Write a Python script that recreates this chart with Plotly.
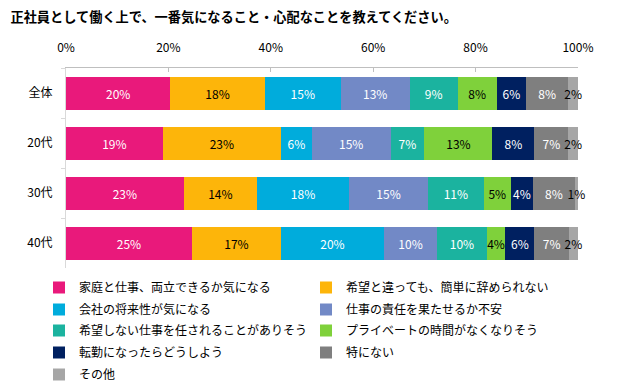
import plotly.graph_objects as go

title = "正社員として働く上で、一番気になること・心配なことを教えてください。"
categories = ["全体", "20代", "30代", "40代"]
series_names = [
    "家庭と仕事、両立できるか気になる",
    "希望と違っても、簡単に辞められない",
    "会社の将来性が気になる",
    "仕事の責任を果たせるか不安",
    "希望しない仕事を任されることがありそう",
    "プライベートの時間がなくなりそう",
    "転勤になったらどうしよう",
    "特にない",
    "その他",
]
# values per series, order: 全体, 20代, 30代, 40代 (percent)
s1 = [20.4, 18.9, 23.0, 24.6]
s2 = [18.4, 23.1, 14.3, 17.4]
s3 = [14.9, 6.0, 18.0, 20.1]
s4 = [13.4, 15.4, 15.4, 10.4]
s5 = [9.4, 6.6, 10.9, 9.7]
s6 = [7.6, 13.3, 5.3, 3.6]
s7 = [5.8, 8.2, 4.3, 5.7]
s8 = [8.2, 6.6, 8.2, 6.7]
s9 = [1.9, 1.9, 0.6, 1.8]
series_values = [s1, s2, s3, s4, s5, s6, s7, s8, s9]
colors = ["#E9197B", "#FDB50A", "#00ACDC", "#7289C6", "#1BB39F",
          "#7FD13B", "#002060", "#7F7F7F", "#A6A6A6"]
text_colors = ["white", "black", "white", "white", "white",
               "black", "white", "white", "black"]
tick_vals = [0, 20, 40, 60, 80, 100]
tick_text = ["0%", "20%", "40%", "60%", "80%", "100%"]

FONT = "Meiryo, 'Noto Sans CJK JP', sans-serif"

# legend rows: two entries per row
legend_ids = ["legend", "legend", "legend2", "legend2", "legend3",
              "legend3", "legend4", "legend4", "legend5"]
legend_rows_y = [-0.025, -0.135, -0.24, -0.35, -0.46]

fig = go.Figure()
for name, vals, col, tc, lg in zip(series_names, series_values, colors,
                                   text_colors, legend_ids):
    fig.add_trace(go.Bar(
        y=categories, x=vals, name=name, orientation="h",
        marker=dict(color=col, line=dict(width=0)),
        texttemplate="%{x:.0f}%", textposition="inside",
        insidetextanchor="middle", textangle=0,
        textfont=dict(color=tc, size=12, family=FONT),
        cliponaxis=False, hoverinfo="skip", legend=lg,
    ))

legend_common = dict(
    orientation="h", x=-0.0527, xanchor="left", yanchor="top",
    entrywidth=222, entrywidthmode="pixels", traceorder="normal",
    font=dict(size=12, family=FONT, color="black"),
    itemclick=False, itemdoubleclick=False, bgcolor="rgba(0,0,0,0)",
)

fig.update_layout(
    barmode="stack",
    bargap=0.34,
    width=620, height=389,
    margin=dict(l=58, r=50, t=60, b=129, pad=0, autoexpand=False),
    paper_bgcolor="white", plot_bgcolor="white",
    font=dict(family=FONT, size=12, color="#000000"),
    title=dict(text="<b>" + title + "</b>", x=0.004, xanchor="left",
               y=0.976, yanchor="middle",
               font=dict(size=13.2, family=FONT, color="black")),
    uniformtext=dict(minsize=12, mode="show"),
    showlegend=True,
    legend=dict(y=legend_rows_y[0], **legend_common),
    legend2=dict(y=legend_rows_y[1], **legend_common),
    legend3=dict(y=legend_rows_y[2], **legend_common),
    legend4=dict(y=legend_rows_y[3], **legend_common),
    legend5=dict(y=legend_rows_y[4], **legend_common),
)
fig.update_xaxes(
    range=[0, 100.01], side="top", tickvals=tick_vals, ticktext=tick_text,
    showgrid=False, zeroline=False, showline=True, linecolor="#BFBFBF",
    linewidth=1, ticks="inside", ticklen=4, tickcolor="#BFBFBF",
    ticklabelstandoff=10, tickfont=dict(size=12, family=FONT),
    fixedrange=True,
)
fig.update_yaxes(
    categoryorder="array", categoryarray=categories, autorange="reversed",
    showgrid=False, zeroline=False, showline=True, linecolor="#D9D9D9",
    linewidth=1, ticks="outside", ticklen=4, tickcolor="#D9D9D9",
    tickson="boundaries", ticklabelstandoff=10,
    tickfont=dict(size=12, family=FONT), fixedrange=True,
)

fig.write_html("out.html")
